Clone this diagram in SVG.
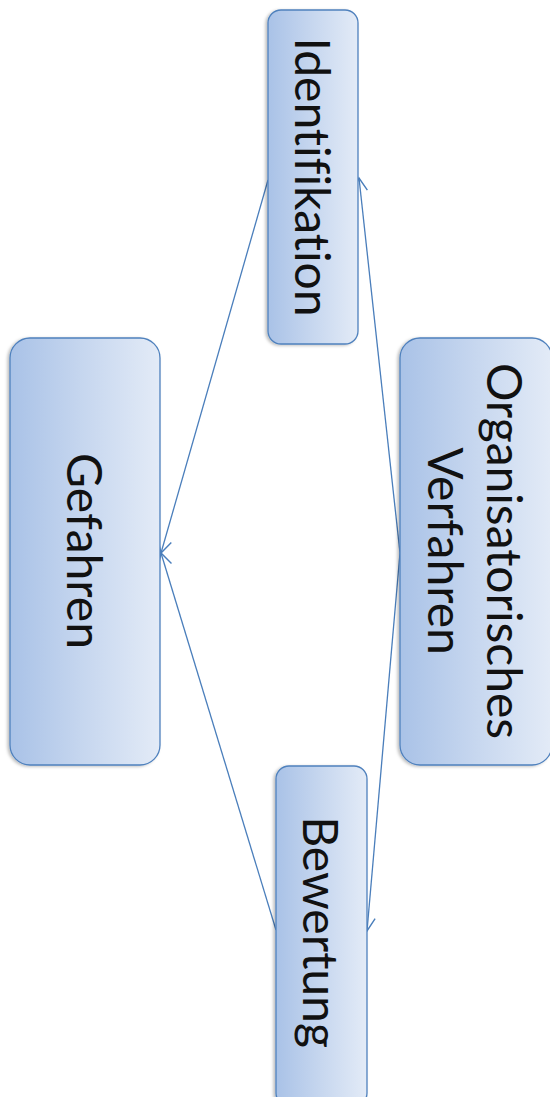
<svg xmlns="http://www.w3.org/2000/svg" width="550" height="1097" viewBox="0 0 550 1097">
  <style>
    .box { stroke: #4f81bd; stroke-width: 1.3; fill: url(#boxFill); filter: url(#soft); }
    .lbl { font-family: Lato, "Open Sans", sans-serif; font-size: 48px; fill: #111; text-anchor: middle; font-variant-ligatures: none; font-feature-settings: "liga" 0; }
    .conn { stroke: #4a7ebb; stroke-width: 1.3; fill: none; marker-end: url(#open); }
  </style>
  <defs>
    <linearGradient id="boxFill" x1="0" y1="0" x2="1" y2="0">
      <stop offset="0" stop-color="#a9c2e7"/>
      <stop offset="0.5" stop-color="#c7d7ef"/>
      <stop offset="1" stop-color="#e3ebf7"/>
    </linearGradient>
    <filter id="soft" x="-10%" y="-10%" width="120%" height="120%">
      <feDropShadow dx="-2" dy="1" stdDeviation="1.5" flood-color="#000" flood-opacity="0.25"/>
    </filter>
    <marker id="open" markerUnits="userSpaceOnUse" markerWidth="18" markerHeight="18" viewBox="0 0 18 18" refX="16" refY="9" orient="auto">
      <path d="M3,2 L16,9 L3,16" fill="none" stroke="#4a7ebb" stroke-width="1.4"/>
    </marker>
  </defs>

  <g id="connectors">
    <line class="conn" x1="268" y1="180" x2="161" y2="553"/>
    <line class="conn" x1="276" y1="930" x2="161" y2="553"/>
    <line class="conn" x1="400" y1="553" x2="359" y2="178"/>
    <line class="conn" x1="400" y1="553" x2="367" y2="931"/>
  </g>

  <g id="identifikation">
    <rect class="box" x="268" y="10" width="90" height="334" rx="13"/>
    <text class="lbl" transform="translate(295,177) rotate(90)">Identifikation</text>
  </g>

  <g id="gefahren">
    <rect class="box" x="10" y="338" width="150" height="427" rx="20"/>
    <text class="lbl" transform="translate(67,551) rotate(90)">Gefahren</text>
  </g>

  <g id="organisatorisches-verfahren">
    <rect class="box" x="400" y="338" width="152" height="427" rx="20"/>
    <text class="lbl" transform="translate(487,551) rotate(90)">Organisatorisches</text>
    <text class="lbl" transform="translate(428,551) rotate(90)">Verfahren</text>
  </g>

  <g id="bewertung">
    <rect class="box" x="276" y="766" width="91" height="340" rx="13"/>
    <text class="lbl" transform="translate(303,932) rotate(90)">Bewertung</text>
  </g>
</svg>
